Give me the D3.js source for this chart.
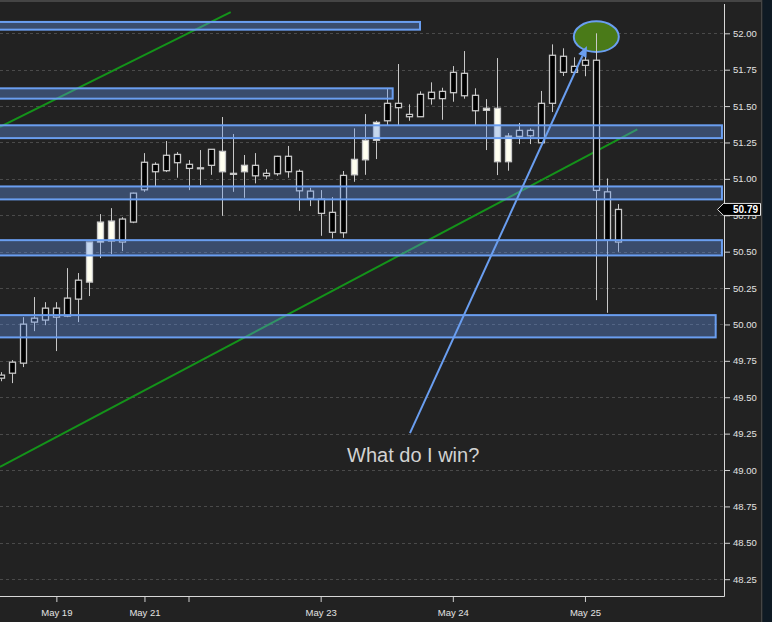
<!DOCTYPE html>
<html>
<head>
<meta charset="utf-8">
<script src="https://cdn.jsdelivr.net/npm/d3@7"></script>
<style>
  html, body { margin: 0; padding: 0; background: #222222; }
  svg { display: block; }
</style>
</head>
<body>
<script>
// ---------------- DATA ----------------
const candleOpen  = [49.652,49.741,50.002,50.043,50.112,50.112,50.181,50.304,50.291,50.566,50.573,50.724,50.902,51.114,51.100,51.162,51.168,51.100,51.076,51.203,51.049,51.038,51.049,51.093,51.038,51.155,51.155,51.052,50.916,50.861,50.770,51.024,51.028,51.131,51.265,51.519,51.519,51.443,51.581,51.595,51.601,51.732,51.725,51.574,51.471,51.118,51.118,51.333,51.333,51.519,51.849,51.842,51.773,51.815,51.815,50.911,50.790];
const candleHigh  = [49.672,49.755,50.050,50.188,50.153,50.153,50.387,50.353,50.566,50.758,50.799,50.737,50.905,51.177,51.114,51.260,51.184,51.129,51.198,51.205,51.425,51.308,51.164,51.177,51.067,51.158,51.226,51.065,50.939,50.923,50.875,51.054,51.347,51.445,51.399,51.624,51.789,51.512,51.601,51.663,51.626,51.775,51.878,51.622,51.548,51.830,51.315,51.384,51.347,51.604,51.924,51.897,51.835,51.849,52.000,51.003,50.827];
const candleLow   = [49.610,49.597,49.707,49.954,49.995,49.817,50.050,50.016,50.195,50.456,50.483,50.504,50.696,50.911,50.951,51.047,51.008,50.923,50.957,51.028,50.746,50.911,50.870,50.969,51.000,51.021,51.008,50.781,50.813,50.609,50.591,50.595,50.980,51.028,51.136,51.370,51.370,51.399,51.427,51.510,51.406,51.530,51.551,51.370,51.198,51.026,51.056,51.239,51.239,51.248,51.459,51.707,51.732,51.705,50.167,50.080,50.499];
const candleClose = [49.631,49.665,49.734,50.016,50.030,50.050,50.057,50.174,50.566,50.703,50.710,50.566,50.703,50.925,51.049,51.056,51.111,51.072,51.076,51.093,51.189,51.038,51.093,51.021,51.021,51.035,51.049,50.918,50.866,50.763,50.633,50.630,51.134,51.265,51.388,51.399,51.489,51.427,51.427,51.551,51.551,51.592,51.571,51.468,51.485,51.485,51.294,51.292,51.296,51.248,51.519,51.732,51.732,51.780,50.921,50.579,50.566];

const lastPrice = 50.79;

const yTickValues = [48.25,48.5,48.75,49,49.25,49.5,49.75,50,50.25,50.5,50.75,51,51.25,51.5,51.75,52];
const xTickIndex  = [5, 13, 17, 29, 41, 53];
const xTickLabels = ["May 19", "May 21", "", "May 23", "May 24", "May 25"];

// support / resistance zones: [startIndex, endIndex, lowPrice, highPrice]
const zoneStart = [-2, -2, -2, -2, -2, -2];
const zoneEnd   = [38.02, 35.54, 65.44, 65.44, 65.44, 64.87];
const zoneLow   = [52.025, 51.551, 51.280, 50.859, 50.474, 49.911];
const zoneHigh  = [52.078, 51.622, 51.368, 50.948, 50.579, 50.064];

// trend lines: [i1, p1, i2, p2]
const trendI1 = [-0.118, -0.118];
const trendP1 = [51.358, 49.021];
const trendI2 = [20.83, 57.75];
const trendP2 = [52.146, 51.340];

// annotation
const arrowFrom = [37.11, 49.253];
const arrowTo   = [53.18, 51.913];
const circleAt  = [54.03, 51.977];
const noteAt    = [37.4, 49.054];
const noteText  = "What do I win?";

// ---------------- DRAWING ----------------
const W = 772, H = 622;
const plotRight = 724, plotBottom = 596;

const svg = d3.select("body").append("svg").attr("width", W).attr("height", H);
svg.append("rect").attr("width", W).attr("height", H).attr("fill", "#222222");

const x = d3.scaleLinear().domain([0, 56]).range([1.3, 618]);
const y = d3.scaleLinear().domain([48.25, 52]).range([579.2, 33.3]);

svg.append("defs").append("clipPath").attr("id", "plotclip")
  .append("rect").attr("x", 0).attr("y", 0).attr("width", plotRight).attr("height", plotBottom);

const plot = svg.append("g").attr("clip-path", "url(#plotclip)");

// grid
plot.append("g").selectAll("line").data(yTickValues).join("line")
  .attr("x1", 0).attr("x2", plotRight)
  .attr("y1", d => Math.round(y(d)) + 0.5).attr("y2", d => Math.round(y(d)) + 0.5)
  .attr("stroke", "#4a4a4a").attr("stroke-width", 1).attr("stroke-dasharray", "3,3");

// trend lines
plot.append("g").selectAll("line").data(trendI1.map((d, k) => k)).join("line")
  .attr("x1", k => x(trendI1[k])).attr("y1", k => y(trendP1[k]))
  .attr("x2", k => x(trendI2[k])).attr("y2", k => y(trendP2[k]))
  .attr("stroke", "#14931a").attr("stroke-width", 2);

// ellipse annotation
plot.append("ellipse")
  .attr("cx", x(circleAt[0])).attr("cy", y(circleAt[1]))
  .attr("rx", 22.5).attr("ry", 15.3)
  .attr("fill", "#4a7a18").attr("stroke", "#6a9ef0").attr("stroke-width", 2);

// candles
const candles = candleOpen.map((o, i) => ({ i, o, h: candleHigh[i], l: candleLow[i], c: candleClose[i] }));
const cg = plot.append("g");
const cx = d => Math.round(x(d.i)) + 0.5;
cg.selectAll("line.wick").data(candles).join("line").attr("class", "wick")
  .attr("x1", cx).attr("x2", cx)
  .attr("y1", d => y(d.h)).attr("y2", d => y(d.l))
  .attr("stroke", "#c8c8c8").attr("stroke-width", 1);
cg.selectAll("rect.body").data(candles).join("rect").attr("class", "body")
  .attr("x", d => cx(d) - 3)
  .attr("width", 6)
  .attr("y", d => y(Math.max(d.o, d.c)))
  .attr("height", d => Math.max(1, y(Math.min(d.o, d.c)) - y(Math.max(d.o, d.c))))
  .attr("fill", d => d.c > d.o ? "#fffff0" : "#000000")
  .attr("stroke", "#c8c8c8").attr("stroke-width", 1.3);

// zones
plot.append("g").selectAll("rect").data(zoneLow.map((d, k) => k)).join("rect")
  .attr("x", k => x(zoneStart[k])).attr("width", k => x(zoneEnd[k]) - x(zoneStart[k]))
  .attr("y", k => y(zoneHigh[k])).attr("height", k => y(zoneLow[k]) - y(zoneHigh[k]))
  .attr("fill", "rgba(100,149,237,0.37)").attr("stroke", "#6a9ef0").attr("stroke-width", 2);

// arrow
const ax1 = x(arrowFrom[0]), ay1 = y(arrowFrom[1]), ax2 = x(arrowTo[0]), ay2 = y(arrowTo[1]);
const ang = Math.atan2(ay2 - ay1, ax2 - ax1);
const headLen = 11, headW = 4.5;
const bx = ax2 - headLen * Math.cos(ang), by = ay2 - headLen * Math.sin(ang);
plot.append("line").attr("x1", ax1).attr("y1", ay1).attr("x2", bx).attr("y2", by)
  .attr("stroke", "#6a9ef0").attr("stroke-width", 2);
plot.append("polygon")
  .attr("points", [
    [ax2, ay2],
    [bx + headW * Math.sin(ang), by - headW * Math.cos(ang)],
    [bx - headW * Math.sin(ang), by + headW * Math.cos(ang)]
  ].map(p => p.join(",")).join(" "))
  .attr("fill", "#6a9ef0");

// note text
plot.append("text").attr("x", x(noteAt[0])).attr("y", y(noteAt[1]))
  .attr("text-anchor", "middle")
  .attr("font-family", "'Liberation Sans', Arial, sans-serif").attr("font-size", 20)
  .attr("fill", "#d2d2d2").text(noteText);

// axes
const axisFont = "'Liberation Sans', Arial, sans-serif";
const yAxis = svg.append("g").attr("transform", `translate(${plotRight},0)`)
  .call(d3.axisRight(y).tickValues(yTickValues).tickSize(6).tickPadding(3).tickFormat(d3.format(".2f")));
yAxis.select(".domain").remove();
yAxis.selectAll(".tick line").attr("stroke", "#d0d0d0");
yAxis.selectAll(".tick text").attr("fill", "#e2e2e2").attr("font-size", 9.5).attr("font-family", axisFont);

const xAxis = svg.append("g").attr("transform", `translate(0,${plotBottom})`)
  .call(d3.axisBottom(x).tickValues(xTickIndex).tickSize(6).tickPadding(7)
    .tickFormat((d, k) => xTickLabels[k]));
xAxis.select(".domain").remove();
xAxis.selectAll(".tick line").attr("stroke", "#d0d0d0");
xAxis.selectAll(".tick text").attr("fill", "#e2e2e2").attr("font-size", 9.5).attr("font-family", axisFont);

svg.append("line").attr("x1", plotRight + 0.5).attr("x2", plotRight + 0.5).attr("y1", 4).attr("y2", plotBottom + 0.5)
  .attr("stroke", "#d8d8d8").attr("stroke-width", 1);
svg.append("line").attr("x1", 0).attr("x2", plotRight + 0.5).attr("y1", plotBottom + 0.5).attr("y2", plotBottom + 0.5)
  .attr("stroke", "#d8d8d8").attr("stroke-width", 1);

// frame
svg.append("rect").attr("x", 0).attr("y", 0).attr("width", 762).attr("height", 2).attr("fill", "#454545");
svg.append("rect").attr("x", 761).attr("y", 0).attr("width", 1.5).attr("height", H).attr("fill", "#454545");
svg.append("rect").attr("x", 762.5).attr("y", 0).attr("width", W - 762.5).attr("height", H).attr("fill", "#0f1a24");

// last price marker
const ly = y(lastPrice);
svg.append("polygon")
  .attr("points", [[717.5, ly], [723.5, ly - 6], [760.5, ly - 6], [760.5, ly + 6], [723.5, ly + 6]].map(p => p.join(",")).join(" "))
  .attr("fill", "#000").attr("stroke", "#e0e0e0").attr("stroke-width", 1);
svg.append("text").attr("x", 733).attr("y", ly + 3.6)
  .attr("font-family", axisFont).attr("font-size", 10).attr("font-weight", "bold")
  .attr("fill", "#ffffff").text(d3.format(".2f")(lastPrice));
</script>
</body>
</html>
